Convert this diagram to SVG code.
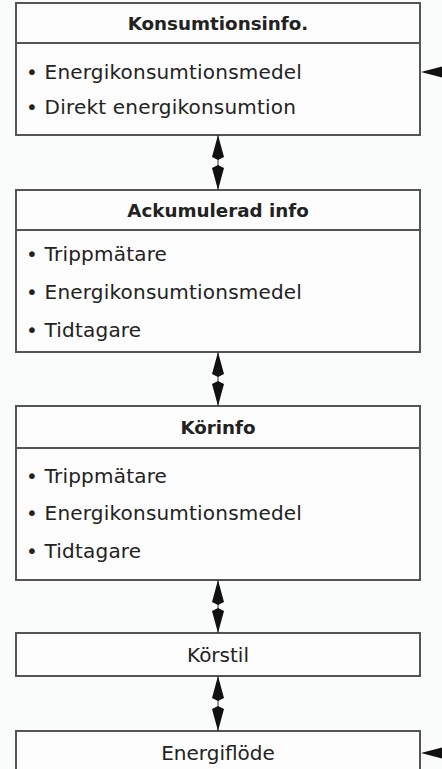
<svg xmlns="http://www.w3.org/2000/svg" width="442" height="769" viewBox="0 0 442 769">
<defs>
<style>
.box{fill:#fdfdfd;stroke:#555;stroke-width:2}
.sep{stroke:#555;stroke-width:2}
.hd{font-family:"DejaVu Sans",sans-serif;font-weight:bold;font-size:18.3px;fill:#222;text-anchor:middle}
.it{font-family:"DejaVu Sans",sans-serif;font-size:20px;letter-spacing:0.2px;fill:#222}
.ctr{font-family:"DejaVu Sans",sans-serif;font-size:20px;fill:#222;text-anchor:middle}
.shaft{stroke:#333;stroke-width:1}
.head{fill:#111}
</style>
</defs>
<rect width="442" height="769" fill="#fafbfb"/>
<g id="konsumtionsinfo">
<rect class="box" x="16" y="3" width="404" height="132"/>
<line class="sep" x1="16" y1="43" x2="420" y2="43"/>
<text class="hd" x="218" y="30">Konsumtionsinfo.</text>
<text class="it" x="26" y="79">• Energikonsumtionsmedel</text>
<text class="it" x="26" y="114">• Direkt energikonsumtion</text>
</g>
<g id="ackumulerad">
<rect class="box" x="16" y="190" width="404" height="162"/>
<line class="sep" x1="16" y1="230" x2="420" y2="230"/>
<text class="hd" x="218" y="217">Ackumulerad info</text>
<text class="it" x="26" y="261">• Trippmätare</text>
<text class="it" x="26" y="299">• Energikonsumtionsmedel</text>
<text class="it" x="26" y="337">• Tidtagare</text>
</g>
<g id="korinfo">
<rect class="box" x="16" y="406" width="404" height="174"/>
<line class="sep" x1="16" y1="448" x2="420" y2="448"/>
<text class="hd" x="218" y="434">Körinfo</text>
<text class="it" x="26" y="483">• Trippmätare</text>
<text class="it" x="26" y="520">• Energikonsumtionsmedel</text>
<text class="it" x="26" y="558">• Tidtagare</text>
</g>
<g id="korstil">
<rect class="box" x="16" y="633" width="404" height="43"/>
<text class="ctr" x="218" y="662">Körstil</text>
</g>
<g id="energiflode">
<rect class="box" x="16" y="731" width="404" height="50"/>
<text class="ctr" x="218" y="760">Energiflöde</text>
</g>
<g id="connectors">
<g transform="translate(218,135)">
<line class="shaft" x1="0" y1="0" x2="0" y2="55"/>
<path class="head" d="M0,0 L6,22 L0,25 L-6,22 Z"/>
<path class="head" d="M0,55 L6,33 L0,30 L-6,33 Z"/>
</g>
<g transform="translate(218,352)">
<line class="shaft" x1="0" y1="0" x2="0" y2="54"/>
<path class="head" d="M0,0 L6,22 L0,25 L-6,22 Z"/>
<path class="head" d="M0,54 L6,32 L0,29 L-6,32 Z"/>
</g>
<g transform="translate(218,580)">
<line class="shaft" x1="0" y1="0" x2="0" y2="53"/>
<path class="head" d="M0,0 L6,22 L0,25 L-6,22 Z"/>
<path class="head" d="M0,53 L6,31 L0,28 L-6,31 Z"/>
</g>
<g transform="translate(218,676)">
<line class="shaft" x1="0" y1="0" x2="0" y2="55"/>
<path class="head" d="M0,0 L6,22 L0,25 L-6,22 Z"/>
<path class="head" d="M0,55 L6,33 L0,30 L-6,33 Z"/>
</g>
<path class="head" d="M421,72 L442,66.5 L442,77.5 Z"/>
<path class="head" d="M421,753 L442,747.5 L442,758.5 Z"/>
</g>
</svg>
